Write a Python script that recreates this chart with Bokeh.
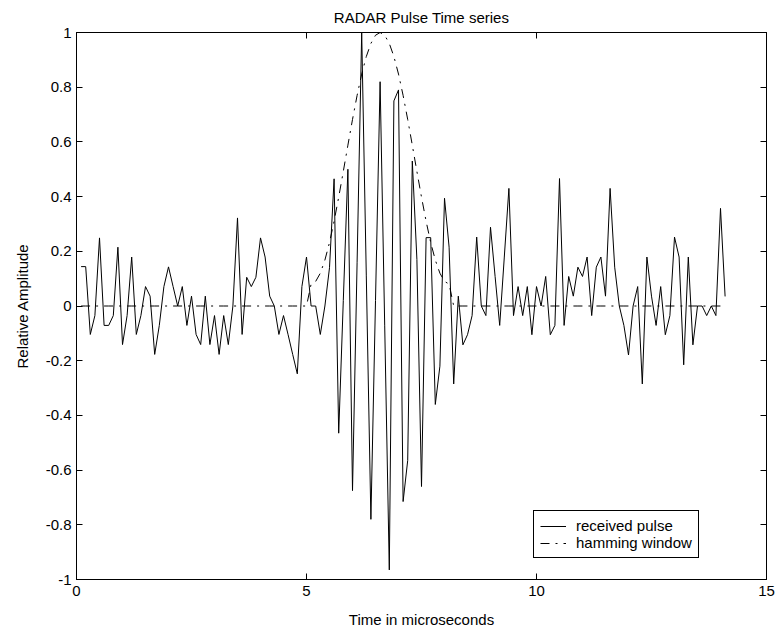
from bokeh.plotting import figure
from bokeh.models import (FixedTicker, LinearAxis, CustomJSTickFormatter, Range1d,
                          Legend, LegendItem)
from bokeh.embed import file_html
from bokeh.resources import INLINE

# Sampling clock of the receiver (microseconds per sample)
SAMPLE_PERIOD_US = 0.1

# Received echo: noise floor with the windowed carrier burst in the middle
received_pulse = [
    0.144, 0.144, -0.104, -0.035, 0.249, -0.071, -0.071, -0.035, 0.215, -0.141,
    -0.035, 0.179, -0.104, -0.035, 0.071, 0.036, -0.177, -0.071, 0.071, 0.143,
    0.071, 0.0, 0.071, -0.071, 0.036, -0.104, -0.141, 0.036, -0.141, -0.035,
    -0.177, -0.035, -0.141, 0.0, 0.322, -0.104, 0.105, 0.071, 0.105, 0.249,
    0.179, 0.036, 0.0, -0.104, -0.035, -0.105, -0.177, -0.248, 0.071, 0.179,
    0.0, 0.0, -0.104, 0.0, 0.14, 0.465, -0.465, 0.02, 0.5, -0.675,
    0.16, 1.0, 0.11, -0.78, 0.02, 0.82, -0.07, -0.965, 0.75, 0.79,
    -0.715, -0.565, 0.53, 0.17, -0.66, 0.25, 0.25, -0.36, -0.22, 0.394,
    0.215, -0.285, 0.036, -0.142, -0.105, -0.035, 0.252, 0.0, -0.035, 0.288,
    0.108, -0.071, 0.179, 0.43, -0.035, 0.071, -0.035, 0.071, -0.105, 0.071,
    0.0, 0.108, -0.105, -0.071, 0.466, -0.071, 0.108, 0.036, 0.142, 0.108,
    0.179, -0.035, 0.142, 0.179, 0.036, 0.43, 0.142, 0.0, -0.071, -0.179,
    0.0, 0.071, -0.285, 0.179, 0.036, -0.071, 0.071, -0.105, -0.035, 0.252,
    0.179, -0.215, 0.179, -0.142, 0.0, 0.0, -0.035, 0.0, -0.035, 0.357,
    0.035,
]

# Hamming taper applied to the transmitted burst (zero outside the burst)
window_before = [0.0] * 50
window_taper = [
    0.08, 0.090, 0.120, 0.168, 0.232, 0.310, 0.398, 0.492, 0.588, 0.682,
    0.770, 0.848, 0.912, 0.960, 0.990, 1.0, 0.990, 0.960, 0.912, 0.848,
    0.770, 0.682, 0.588, 0.492, 0.398, 0.310, 0.232, 0.168, 0.120, 0.090,
    0.08,
]
window_after = [0.0] * 60
hamming_window = window_before + window_taper + window_after

time_us = [round(SAMPLE_PERIOD_US * k, 1) for k in range(1, len(received_pulse) + 1)]

x_ticks = [0, 5, 10, 15]
x_tick_labels = ["0", "5", "10", "15"]
y_ticks = [-1, -0.8, -0.6, -0.4, -0.2, 0, 0.2, 0.4, 0.6, 0.8, 1]
y_tick_labels = ["-1", "-0.8", "-0.6", "-0.4", "-0.2", "0", "0.2", "0.4", "0.6", "0.8", "1"]

FONT = "Liberation Sans"
FONT_SIZE = "15px"

p = figure(width=779, height=631, output_backend="svg", toolbar_location=None,
           x_range=Range1d(0, 15), y_range=Range1d(-1, 1),
           min_border_left=76, min_border_right=13,
           min_border_top=32, min_border_bottom=52,
           title="RADAR Pulse Time series")

p.background_fill_color = "white"
p.border_fill_color = "white"
p.outline_line_color = "black"
p.outline_line_width = 1
p.xgrid.visible = False
p.ygrid.visible = False

p.title.align = "center"
p.title.text_font = FONT
p.title.text_font_size = FONT_SIZE
p.title.text_font_style = "normal"
p.title.text_color = "black"
p.title.standoff = 13


def style_axis(ax):
    ax.axis_line_color = "black"
    ax.axis_line_width = 1
    ax.major_tick_line_color = "black"
    ax.major_tick_in = 6
    ax.major_tick_out = 0
    ax.minor_tick_line_color = None
    ax.major_label_text_font = FONT
    ax.major_label_text_font_size = FONT_SIZE
    ax.major_label_text_color = "black"
    ax.axis_label_text_font = FONT
    ax.axis_label_text_font_size = FONT_SIZE
    ax.axis_label_text_font_style = "normal"
    ax.axis_label_text_color = "black"


xaxis = p.xaxis[0]
xaxis.ticker = FixedTicker(ticks=x_ticks)
xaxis.major_label_overrides = dict(zip(x_ticks, x_tick_labels))
xaxis.axis_label = "Time in microseconds"
style_axis(xaxis)
xaxis.major_label_standoff = 6
xaxis.axis_label_standoff = 12

yaxis = p.yaxis[0]
yaxis.ticker = FixedTicker(ticks=y_ticks)
yaxis.major_label_overrides = dict(zip(y_ticks, y_tick_labels))
yaxis.axis_label = "Relative Amplitude"
style_axis(yaxis)
yaxis.major_label_standoff = 5
yaxis.axis_label_standoff = 12

# Tick marks on the opposite edges of the box, without labels
blank = CustomJSTickFormatter(code="return ''")
right_axis = LinearAxis(ticker=FixedTicker(ticks=y_ticks), formatter=blank)
style_axis(right_axis)
right_axis.major_label_standoff = 0
p.add_layout(right_axis, "right")

top_axis = LinearAxis(ticker=FixedTicker(ticks=x_ticks), formatter=blank)
style_axis(top_axis)
top_axis.major_label_standoff = 0
p.add_layout(top_axis, "above")

pulse_line = p.line(time_us, received_pulse, line_color="black", line_width=1)
window_line = p.line(time_us, hamming_window, line_color="black", line_width=1,
                     line_dash="9 6 2 6")

legend = Legend(items=[LegendItem(label="received pulse", renderers=[pulse_line]),
                       LegendItem(label="hamming window", renderers=[window_line])],
                location=(457, 21))
legend.border_line_color = "black"
legend.border_line_width = 1
legend.border_line_alpha = 1
legend.background_fill_color = "white"
legend.background_fill_alpha = 1
legend.label_text_font = FONT
legend.label_text_font_size = FONT_SIZE
legend.label_text_color = "black"
legend.glyph_width = 26
legend.glyph_height = 16
legend.label_height = 16
legend.label_standoff = 10
legend.spacing = 0
legend.padding = 6
legend.margin = 0
p.add_layout(legend)

open("out.html", "w").write(file_html(p, INLINE))
